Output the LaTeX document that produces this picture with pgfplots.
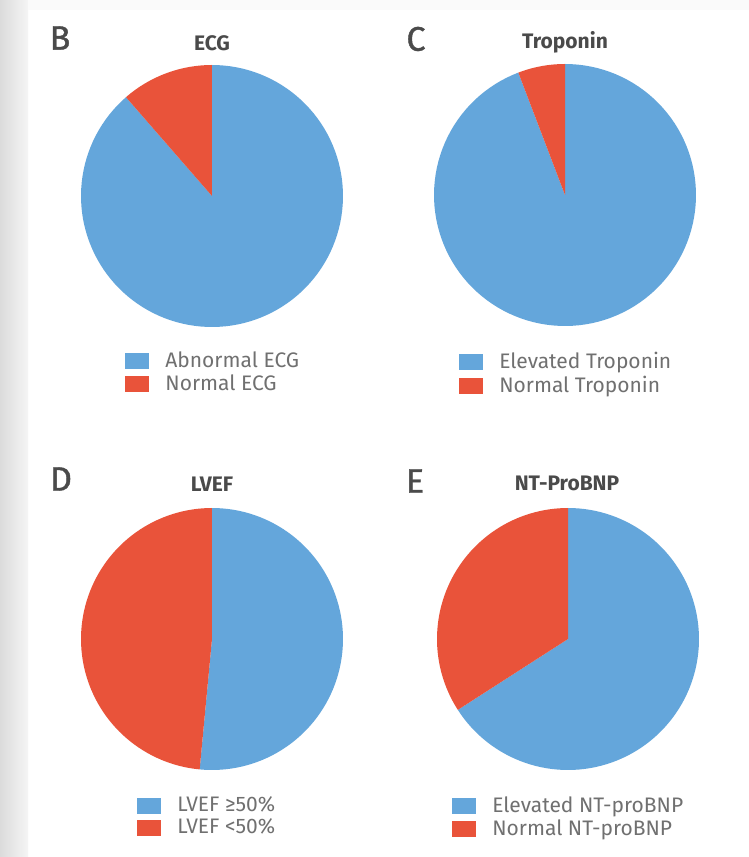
\documentclass[border=0pt]{standalone}
\usepackage{pgfplots}
\pgfplotsset{compat=1.18}
\usepgfplotslibrary{polar}
\usepackage{fontspec}
\setmainfont{Fira Sans}
\definecolor{pieblue}{HTML}{64A6DB}
\definecolor{piered}{HTML}{E9533A}
\definecolor{ttl}{HTML}{4A4A4A}
\definecolor{lgtxt}{HTML}{707070}
% percentages of the red ("normal" / "<50%") slice, measured from the top, counter-clockwise
\def\ecgRed{11.4}
\def\tropRed{5.8}
\def\lvefRed{48.5}
\def\bnpRed{34.1}
\pgfplotsset{
  pie/.style={scale only axis, width=131pt, height=131pt, hide axis,
    ymin=0, ymax=1, xmin=0, xmax=360, anchor=center, clip=false,
    legend cell align=left,
    legend style={draw=none, fill=none, inner sep=0pt, anchor=north west,
      font=\fontsize{10.5}{12.5}\selectfont, text=lgtxt, row sep=-1.8pt, column sep=6pt},
    legend image code/.code={\fill[##1] (0pt,-4pt) rectangle (12pt,4pt);},
  },
}
\begin{document}
\begin{tikzpicture}[x=0.5pt,y=0.5pt]
\fill[white] (0,0) rectangle (749,857);
\shade[left color=gray!28, right color=gray!8] (0,0) rectangle (28,857);
\fill[gray!4] (28,847) rectangle (749,857);
% B
\begin{polaraxis}[pie, at={(106pt,330.5pt)}, legend style={at={(0.168,-0.078)}}]
\addplot[fill=pieblue, draw=none, domain={90+3.6*\ecgRed}:450, samples=120] {1} -- (axis cs:0,0) -- cycle;
\addlegendentry{Abnormal ECG}
\addplot[fill=piered, draw=none, domain=90:{90+3.6*\ecgRed}, samples=30] {1} -- (axis cs:0,0) -- cycle;
\addlegendentry{Normal ECG}
\end{polaraxis}
% C
\begin{polaraxis}[pie, at={(282.5pt,331pt)}, legend style={at={(0.095,-0.083)}}]
\addplot[fill=pieblue, draw=none, domain={90+3.6*\tropRed}:450, samples=120] {1} -- (axis cs:0,0) -- cycle;
\addlegendentry{Elevated Troponin}
\addplot[fill=piered, draw=none, domain=90:{90+3.6*\tropRed}, samples=20] {1} -- (axis cs:0,0) -- cycle;
\addlegendentry{Normal Troponin}
\end{polaraxis}
% D
\begin{polaraxis}[pie, at={(106pt,109pt)}, legend style={at={(0.214,-0.085)}}]
\addplot[fill=pieblue, draw=none, domain={90+3.6*\lvefRed}:450, samples=80] {1} -- (axis cs:0,0) -- cycle;
\addlegendentry{LVEF ≥50\%}
\addplot[fill=piered, draw=none, domain=90:{90+3.6*\lvefRed}, samples=80] {1} -- (axis cs:0,0) -- cycle;
\addlegendentry{LVEF <50\%}
\end{polaraxis}
% E
\begin{polaraxis}[pie, at={(284pt,109pt)}, legend style={at={(0.057,-0.085)}}]
\addplot[fill=pieblue, draw=none, domain={90+3.6*\bnpRed}:450, samples=100] {1} -- (axis cs:0,0) -- cycle;
\addlegendentry{Elevated NT-proBNP}
\addplot[fill=piered, draw=none, domain=90:{90+3.6*\bnpRed}, samples=60] {1} -- (axis cs:0,0) -- cycle;
\addlegendentry{Normal NT-proBNP}
\end{polaraxis}
% panel letters and titles
\begin{scope}[every node/.style={text=ttl, inner sep=0pt}]
\node[font=\fontsize{17}{17}\selectfont\addfontfeature{FakeBold=1.2}] at (60,819) {B};
\node[font=\fontsize{17}{17}\selectfont\addfontfeature{FakeBold=1.2}] at (416,818) {C};
\node[font=\fontsize{17}{17}\selectfont\addfontfeature{FakeBold=1.2}] at (61,378) {D};
\node[font=\fontsize{17}{17}\selectfont\addfontfeature{FakeBold=1.2}] at (415,376) {E};
\node[font=\fontsize{10.5}{12}\selectfont\bfseries] at (212,813.5) {ECG};
\node[font=\fontsize{10.5}{12}\selectfont\bfseries] at (565,815) {Troponin};
\node[font=\fontsize{10.5}{12}\selectfont\bfseries] at (212,373) {LVEF};
\node[font=\fontsize{10.5}{12}\selectfont\bfseries] at (567,374) {NT-ProBNP};
\end{scope}
\useasboundingbox (0,0) rectangle (749,857);
\end{tikzpicture}
\end{document}
